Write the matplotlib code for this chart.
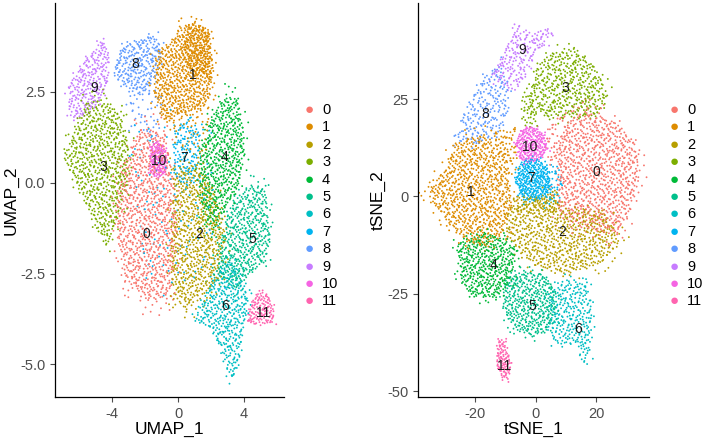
import numpy as np
import matplotlib
matplotlib.use("Agg")
import matplotlib.pyplot as plt
from matplotlib.path import Path

plt.rcParams['font.family'] = ['Liberation Sans', 'DejaVu Sans']

# ggplot hue palette, 12 clusters
cluster_ids = [str(i) for i in range(12)]
palette = ["#F8766D", "#DE8C00", "#B79F00", "#7CAE00", "#00BA38", "#00C08B",
           "#00BFC4", "#00B4F0", "#619CFF", "#C77CFF", "#F564E3", "#FF64B0"]

# cluster outlines: (cluster, outline vertices, number of cells)
umap_regions = [
    (0, [(-3.5, 0.3), (-2.3, 1.5), (-0.8, 1.4), (-0.3, 0.2), (-0.1, -1.0), (-0.2, -2.5),
         (-0.6, -3.2), (-2.0, -3.25), (-3.2, -2.7), (-3.7, -1.4), (-3.8, -0.5)], 800),
    (1, [(1.0, 4.45), (1.9, 4.2), (2.1, 3.3), (2.0, 2.4), (1.2, 2.0), (0.0, 1.9),
         (-0.8, 1.6), (-1.5, 2.6), (-1.3, 3.6), (-0.5, 3.8), (0.2, 4.3)], 600),
    (1, [(0.6, 4.3), (1.9, 4.2), (2.0, 3.0), (1.0, 2.9), (0.3, 3.5)], 150),
    (1, [(-0.5, 2.0), (2.0, 2.2), (1.6, 0.6), (-0.2, 1.0)], 50),
    (2, [(-0.3, 0.4), (1.2, 0.5), (2.2, -0.2), (2.9, -1.5), (2.5, -2.6), (1.5, -3.2),
         (0.5, -3.5), (-0.3, -3.1), (-0.5, -2.0), (-0.3, -0.5)], 620),
    (3, [(-6.9, 0.7), (-6.2, 1.5), (-5.5, 2.3), (-4.6, 2.3), (-3.6, 2.0), (-3.0, 1.2),
         (-3.0, 0.2), (-3.5, -0.8), (-4.3, -1.8), (-5.0, -1.2), (-5.8, -0.3), (-6.6, 0.4)], 600),
    (4, [(1.3, 0.8), (2.0, 1.8), (2.8, 2.4), (3.6, 2.3), (4.0, 1.5), (4.0, 0.5), (3.5, -0.3),
         (2.8, -0.8), (2.2, -1.3), (1.6, -1.2), (1.3, -0.3)], 500),
    (5, [(2.4, -1.7), (3.3, -0.5), (4.5, 0.0), (5.3, -0.2), (5.6, -1.4), (5.3, -2.2),
         (4.5, -2.5), (3.5, -2.9), (2.4, -2.6)], 430),
    (6, [(1.0, -3.8), (2.2, -2.5), (3.0, -2.0), (3.8, -2.5), (4.3, -3.2), (4.0, -4.0),
         (3.7, -4.8), (3.4, -5.45), (3.0, -5.2), (2.5, -4.5), (2.0, -4.0)], 360),
    (7, [(-0.3, 0.2), (-0.2, 1.5), (0.5, 1.8), (1.3, 1.5), (1.2, 0.3), (0.5, -0.2)], 110),
    (7, [(-3.0, 1.5), (2.0, 1.8), (2.5, -2.5), (-2.0, -3.0)], 110),
    (8, [(-3.9, 3.0), (-3.5, 3.7), (-2.3, 4.0), (-1.3, 4.05), (-1.0, 3.6), (-1.4, 2.9),
         (-2.2, 2.4), (-3.3, 2.6)], 220),
    (8, [(-3.0, 2.6), (-1.0, 2.6), (-1.0, 1.2), (-3.0, 1.4)], 40),
    (9, [(-6.6, 1.8), (-6.6, 2.8), (-5.8, 3.3), (-4.5, 4.0), (-4.2, 3.5), (-4.2, 2.8),
         (-4.8, 2.1), (-5.8, 1.8)], 220),
    (10, [(-1.7, 0.3), (-1.7, 1.0), (-1.2, 1.15), (-0.7, 0.95), (-0.7, 0.3), (-1.2, 0.15)], 130),
    (11, [(4.1, -3.8), (4.6, -3.1), (5.3, -3.0), (5.8, -3.4), (5.8, -3.85), (4.6, -3.9)], 110),
]

tsne_regions = [
    (0, [(17, 23), (28, 18), (34, 12), (34, 3), (31, -4), (27, -10), (15, -8), (8, -5),
         (7, 5), (8, 16), (12, 20)], 760),
    (0, [(4, 20), (12, 22), (8, 6), (3, 10)], 40),
    (1, [(-36, 1), (-30, 7), (-26, 14), (-18, 16), (-12, 13), (-9, 8), (-8, -3), (-11, -10),
         (-17, -13), (-24, -11), (-30, -6)], 720),
    (1, [(-14, 17), (-7, 18), (-6, 8), (-11, 8)], 40),
    (2, [(-9, -3), (-4, -1), (5, 1), (10, -3), (22, -3), (28, -11), (22, -17), (12, -20),
         (2, -19), (-6, -14), (-10, -9)], 600),
    (2, [(-8, 0), (0, 0), (8, 2), (6, -4), (-6, -4)], 60),
    (3, [(-3, 22), (0, 33), (5, 37), (13, 38), (20, 33), (24, 26), (20, 21), (12, 20), (4, 20)], 400),
    (3, [(-5, 26), (-1, 26), (1, 18), (-4, 18)], 25),
    (4, [(-26, -12), (-18, -9), (-10, -11), (-6, -14), (-8, -22), (-13, -26), (-21, -26),
         (-25, -21)], 400),
    (5, [(-10, -21), (-4, -19), (3, -20), (7, -25), (6, -33), (0, -36), (-8, -34), (-11, -28)], 360),
    (6, [(4, -25), (10, -21), (17, -22), (19, -31), (18, -40), (16, -44), (13, -38), (6, -38),
         (4, -33)], 250),
    (7, [(-7, 4), (-5, 9), (0, 10), (4, 7), (5, 2), (1, -1), (-4, -1)], 280),
    (7, [(3, 9), (9, 8), (8, -3), (2, -2)], 40),
    (8, [(-27, 15), (-23, 24), (-18, 30), (-12, 34), (-9, 29), (-9, 20), (-14, 15), (-22, 13)], 180),
    (9, [(-15, 31), (-8, 41), (-7, 45), (-2, 42), (4, 43), (6, 41), (0, 36), (-4, 30), (-8, 27)], 170),
    (10, [(-7, 13), (-5, 17), (-1, 18), (3, 16), (4, 12), (0, 9), (-5, 9)], 210),
    (11, [(-12.5, -36), (-10, -37), (-8, -42), (-9, -47), (-11, -47), (-13, -44)], 90),
]

umap_labels = {0: (-1.9, -1.42), 1: (0.9, 2.98), 2: (1.27, -1.42), 3: (-4.5, 0.44),
               4: (2.83, 0.72), 5: (4.5, -1.56), 6: (2.85, -3.4), 7: (0.36, 0.67),
               8: (-2.6, 3.26), 9: (-5.05, 2.6), 10: (-1.2, 0.6), 11: (5.15, -3.58)}
tsne_labels = {0: (19.9, 6.4), 1: (-21.6, 1.1), 2: (8.7, -9), 3: (9.6, 27.9),
               4: (-14, -17.5), 5: (-1.2, -28), 6: (13.8, -34), 7: (-1.6, 4.7),
               8: (-16.6, 21.3), 9: (-4.7, 37.5), 10: (-1.9, 12.8), 11: (-10.4, -43.5)}


def halton(idx, base):
    out = np.zeros(len(idx))
    f = np.ones(len(idx))
    i = idx.copy()
    while np.any(i > 0):
        f = f / base
        out = out + f * (i % base)
        i = i // base
    return out


def fill_poly(verts, n, start):
    path = Path(verts)
    x0, y0 = verts.min(axis=0)
    x1, y1 = verts.max(axis=0)
    idx = np.arange(start, start + 10 * n)
    px = x0 + (x1 - x0) * halton(idx, 2)
    py = y0 + (y1 - y0) * halton(idx, 3)
    keep = path.contains_points(np.column_stack([px, py]))
    return px[keep][:n], py[keep][:n]


def fill_regions(regions):
    xs, ys, cs = [], [], []
    start = 1
    for cl, verts, n in regions:
        verts = np.array(verts, dtype=float)
        cen = verts.mean(axis=0)
        # core of the cluster plus a thinner fringe around it
        for scale, frac in [(1.0, 1.0), (1.2, 0.22)]:
            px, py = fill_poly(cen + (verts - cen) * scale, int(n * frac), start)
            xs.append(px)
            ys.append(py)
            cs += [palette[cl]] * len(px)
            start += 10 * n + 31
    x = np.concatenate(xs)
    y = np.concatenate(ys)
    o = np.argsort(halton(np.arange(1, len(x) + 1), 7))
    return x[o], y[o], np.array(cs)[o]


fig = plt.figure(figsize=(7.09, 4.42), dpi=100)
W, H = 709, 442


def panel(left, right, regions, labels, xlim, ylim, xticks, yticks, xlab, ylab, leg_x):
    ax = fig.add_axes([left / W, 45 / H, (right - left) / W, 394 / H])
    x, y, c = fill_regions(regions)
    ax.scatter(x, y, s=1.8, c=c, linewidths=0, marker='o')
    for cl, (lx, ly) in labels.items():
        ax.text(lx, ly, str(cl), fontsize=10, ha='center', va='center', color='#1a1a1a')
    ax.set_xlim(*xlim)
    ax.set_ylim(*ylim)
    ax.set_xticks(xticks)
    ax.set_yticks(yticks)
    for s in ['top', 'right']:
        ax.spines[s].set_visible(False)
    for s in ['left', 'bottom']:
        ax.spines[s].set_color('black')
        ax.spines[s].set_linewidth(0.9)
    ax.tick_params(labelsize=10.5, colors='#4D4D4D', length=3.5, width=0.8)
    ax.set_xlabel(xlab, fontsize=12.5, labelpad=1)
    ax.set_ylabel(ylab, fontsize=12.5, labelpad=1)
    # legend
    for i, lab in enumerate(cluster_ids):
        yy = 1 - (110 + i * 17.4) / H
        fig.text(leg_x / W, yy, '\u25CF', color=palette[i], fontsize=11,
                 ha='center', va='center')
        fig.text((leg_x + 13) / W, yy, lab, fontsize=10.5, ha='left', va='center',
                 color='black')
    return ax


ax1 = panel(55, 284, umap_regions, umap_labels, (-7.45, 6.42), (-5.9, 4.95),
            [-4, 0, 4], [-5.0, -2.5, 0.0, 2.5], 'UMAP_1', 'UMAP_2', 309)
ax1.set_yticklabels(['-5.0', '-2.5', '0.0', '2.5'])
ax1.set_xticklabels(['-4', '0', '4'])
ax2 = panel(418, 649, tsne_regions, tsne_labels, (-39, 37.4), (-51.5, 49.7),
            [-20, 0, 20], [-50, -25, 0, 25], 'tSNE_1', 'tSNE_2', 674)
ax2.set_yticklabels(['-50', '-25', '0', '25'])
ax2.set_xticklabels(['-20', '0', '20'])

fig.savefig('out.png', dpi=100)
